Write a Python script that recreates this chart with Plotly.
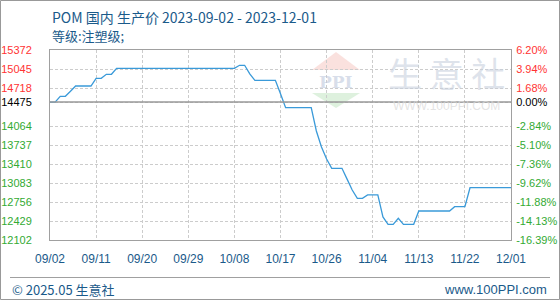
import plotly.graph_objects as go
import pandas as pd

# ---- data ----
start_date = "2023-09-02"
prices = [
    14475, 14475, 14575, 14575, 14663, 14752, 14752, 14752, 14752, 14885,
    14885, 14954, 14954, 15057, 15057, 15057, 15057, 15057, 15057, 15057,
    15057, 15057, 15057, 15057, 15057, 15057, 15057, 15057, 15057, 15057,
    15057, 15057, 15057, 15057, 15057, 15057, 15057, 15109, 15109, 14960,
    14850, 14850, 14850, 14850, 14850, 14620, 14379, 14379, 14379, 14379,
    14379, 14379, 13978, 13703, 13496, 13336, 13336, 13336, 13150, 12963,
    12820, 12820, 12877, 12877, 12877, 12500, 12372, 12372, 12475, 12372,
    12372, 12372, 12601, 12601, 12601, 12601, 12601, 12601, 12601, 12675,
    12675, 12675, 13002, 13002, 13002, 13002, 13002, 13002, 13002, 13002,
    13002,
]
dates = pd.date_range(start_date, periods=len(prices), freq="D")
base_price = 14475
y_ticks = [15372, 15045, 14718, 14475, 14064, 13737, 13410, 13083, 12756, 12429, 12102]
x_tick_labels = ["09/02", "09/11", "09/20", "09/29", "10/08", "10/17",
                 "10/26", "11/04", "11/13", "11/22", "12/01"]
x_tick_dates = pd.date_range(start_date, periods=len(x_tick_labels), freq="9D")
title = "POM 国内 生产价 2023-09-02 - 2023-12-01"
subtitle = "等级:注塑级;"

RED, GREEN, BLACK = "#ff3333", "#33aa33", "#000000"


def col(v):
    return RED if v > base_price else (BLACK if v == base_price else GREEN)


pct_ticks = [(v - base_price) / base_price * 100 for v in y_ticks]
left_text = [f"<span style='color:{col(v)}'>{v}</span>" for v in y_ticks]
right_text = [f"<span style='color:{col(v)}'>{p:.2f}%</span>" for v, p in zip(y_ticks, pct_ticks)]

ymin, ymax = min(y_ticks), max(y_ticks)

fig = go.Figure()
fig.add_trace(go.Scatter(x=dates, y=prices, mode="lines",
                         line=dict(color="#3a9ad9", width=1.3), hoverinfo="skip"))
# invisible trace for right axis
fig.add_trace(go.Scatter(x=[dates[0]], y=[0], yaxis="y2", mode="markers",
                         marker=dict(opacity=0), hoverinfo="skip"))

L, R, T, B = 50, 49, 50, 60
W, H = 560, 300
pw, ph = W - L - R, H - T - B
font_num = "Liberation Sans, Arial, sans-serif"
font_cjk = "Noto Sans CJK SC, Noto Sans, sans-serif"


def px(x):
    return (x - L) / pw


def py(y):
    return (H - B - y) / ph


fig.update_layout(
    width=W, height=H, margin=dict(l=L, r=R, t=T, b=B, autoexpand=False),
    paper_bgcolor="white", plot_bgcolor="white", showlegend=False,
    xaxis=dict(
        range=[dates[0], dates[-1]], tickvals=x_tick_dates, ticktext=x_tick_labels,
        showgrid=True, gridcolor="#cccccc", griddash="3px,2px", gridwidth=1,
        showline=True, linecolor="#a0a0a0", linewidth=1, mirror=True,
        ticks="outside", ticklen=8, tickcolor="rgba(0,0,0,0)",
        tickfont=dict(family=font_num, size=12, color="#1a5a8a"),
        zeroline=False, automargin=False,
    ),
    yaxis=dict(
        range=[ymin, ymax], tickvals=y_ticks, ticktext=left_text,
        showgrid=True, gridcolor="#cccccc", griddash="3px,2px", gridwidth=1,
        showline=True, linecolor="#a0a0a0", linewidth=1, mirror=True,
        ticks="outside", ticklen=15, tickcolor="rgba(0,0,0,0)",
        tickfont=dict(family=font_num, size=11), zeroline=False, automargin=False,
    ),
    yaxis2=dict(
        overlaying="y", side="right",
        range=[(ymin - base_price) / base_price * 100, (ymax - base_price) / base_price * 100],
        tickvals=pct_ticks, ticktext=right_text, showgrid=False, zeroline=False,
        ticks="outside", ticklen=2, tickcolor="rgba(0,0,0,0)",
        tickfont=dict(family=font_num, size=11), showline=False, automargin=False,
    ),
)

# baseline
fig.add_shape(type="line", xref="paper", yref="y", x0=0, x1=1, y0=base_price, y1=base_price,
              line=dict(color="#999999", width=1.5))

# watermark logo
fig.add_shape(type="path", xref="paper", yref="paper", layer="below",
              path=f"M {px(312)} {py(70)} L {px(336)} {py(52)} L {px(360)} {py(70)} Z",
              fillcolor="rgba(240,170,160,0.35)", line=dict(width=0))
fig.add_shape(type="path", xref="paper", yref="paper", layer="below",
              path=f"M {px(312)} {py(93)} L {px(360)} {py(93)} L {px(336)} {py(108)} Z",
              fillcolor="rgba(160,215,160,0.35)", line=dict(width=0))
fig.add_annotation(xref="paper", yref="paper", x=px(336), y=py(82), xanchor="center", yanchor="middle",
                   text="<b>PPI</b>", showarrow=False,
                   font=dict(family="DejaVu Serif, serif", size=17, color="rgba(190,200,220,0.6)"))
fig.add_annotation(xref="paper", yref="paper", x=px(446), y=py(72), xanchor="center", yanchor="middle",
                   text="生 意 社", showarrow=False,
                   font=dict(family=font_cjk, size=34, color="rgba(200,208,222,0.6)"))
fig.add_annotation(xref="paper", yref="paper", x=px(446), y=py(106), xanchor="center", yanchor="middle",
                   text="WWW.100PPI.COM", showarrow=False,
                   font=dict(family=font_num, size=12, color="rgba(215,215,215,0.7)"))

# titles
fig.add_annotation(xref="paper", yref="paper", x=0, y=py(17), xanchor="left", yanchor="middle",
                   text=title, showarrow=False, font=dict(family=font_cjk, size=14, color="#1a5a8a"))
fig.add_annotation(xref="paper", yref="paper", x=0, y=py(35), xanchor="left", yanchor="middle",
                   text=subtitle, showarrow=False, font=dict(family=font_cjk, size=13, color="#1a5a8a"))

# footer
fig.add_shape(type="line", xref="paper", yref="paper", x0=px(10), x1=px(550),
              y0=py(277.5), y1=py(277.5), line=dict(color="#a0a0a0", width=1))
fig.add_annotation(xref="paper", yref="paper", x=px(10), y=py(289), xanchor="left", yanchor="middle",
                   text="© 2025.05 生意社", showarrow=False, font=dict(family=font_cjk, size=13, color="#1a5a8a"))
fig.add_annotation(xref="paper", yref="paper", x=px(549), y=py(289), xanchor="right", yanchor="middle",
                   text="www.100PPI.com", showarrow=False, font=dict(family=font_num, size=13, color="#1a5a8a"))

# outer frame
fig.add_shape(type="rect", xref="paper", yref="paper",
              x0=px(0.5), x1=px(559.5), y0=py(299.5), y1=py(0.5),
              line=dict(color="#999999", width=1), fillcolor="rgba(0,0,0,0)")

fig.write_html("out.html")
